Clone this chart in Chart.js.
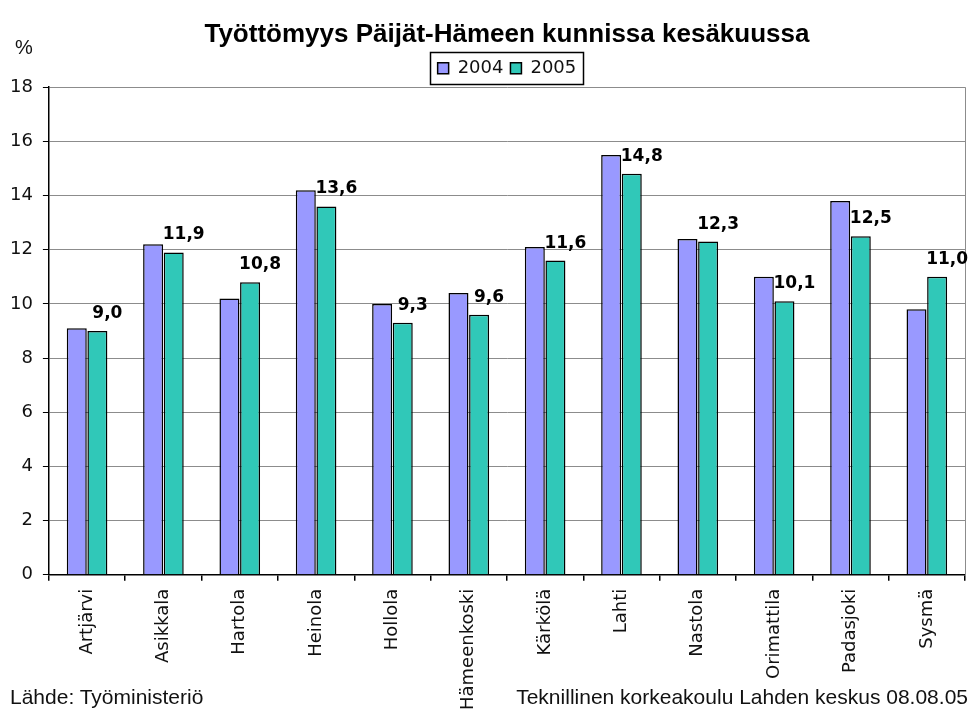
<!DOCTYPE html>
<html>
<head>
<meta charset="utf-8">
<script src="https://cdn.jsdelivr.net/npm/chart.js@4.4.1/dist/chart.umd.min.js"></script>
<style>
  body { margin: 0; background: #fff; }
  #wrap { position: relative; width: 973px; height: 715px; overflow: hidden; }
  .note { position: absolute; font-family: "Liberation Sans", Arial, sans-serif; color: #111; white-space: nowrap; line-height: 21px; }
</style>
</head>
<body>
<div id="wrap">
  <canvas id="chart" width="973" height="715"></canvas>
  <div class="note" style="left:15px; top:37px; font-size:20px;">%</div>
  <div class="note" style="left:10px; top:686px; font-size:21px;">Lähde: Työministeriö</div>
  <div class="note" style="right:5px; top:686px; font-size:21px;">Teknillinen korkeakoulu Lahden keskus 08.08.05</div>
</div>
<script>
  const kunnat = ["Artjärvi", "Asikkala", "Hartola", "Heinola", "Hollola", "Hämeenkoski",
                  "Kärkölä", "Lahti", "Nastola", "Orimattila", "Padasjoki", "Sysmä"];
  const vuosi2004 = [9.1, 12.2, 10.2, 14.2, 10.0, 10.4, 12.1, 15.5, 12.4, 11.0, 13.8, 9.8];
  const vuosi2005 = [9.0, 11.9, 10.8, 13.6, 9.3, 9.6, 11.6, 14.8, 12.3, 10.1, 12.5, 11.0];
  const yMin = 0, yMax = 18, yStep = 2;

  // arvot 2005-pylväiden yläpuolelle, pilkulla
  const arvoLabels = {
    id: "arvoLabels",
    afterDatasetsDraw(chart) {
      const ctx = chart.ctx;
      const meta = chart.getDatasetMeta(1);
      ctx.save();
      ctx.font = "bold 17px 'DejaVu Sans'";
      ctx.fillStyle = "#000";
      ctx.textAlign = "center";
      ctx.textBaseline = "alphabetic";
      meta.data.forEach((bar, i) => {
        const txt = vuosi2005[i].toFixed(1).replace(".", ",");
        ctx.fillText(txt, bar.x + bar.width / 2, bar.y - 13);
      });
      ctx.restore();
    }
  };

  // oikea reuna harmaalla ja selitteen kehys
  const kehykset = {
    id: "kehykset",
    beforeDatasetsDraw(chart) {
      const a = chart.chartArea, ctx = chart.ctx;
      ctx.save();
      ctx.strokeStyle = "#8c8c8c";
      ctx.lineWidth = 1;
      ctx.beginPath();
      ctx.moveTo(a.right + 0.5, a.top);
      ctx.lineTo(a.right + 0.5, a.bottom);
      ctx.stroke();
      ctx.restore();
    },
    afterDraw(chart) {
      const boxes = chart.legend.legendHitBoxes;
      if (!boxes || !boxes.length) return;
      let l = Infinity, r = -Infinity, t = Infinity, b = -Infinity;
      boxes.forEach(h => {
        l = Math.min(l, h.left); r = Math.max(r, h.left + h.width);
        t = Math.min(t, h.top); b = Math.max(b, h.top + h.height);
      });
      const ctx = chart.ctx;
      ctx.save();
      ctx.strokeStyle = "#000";
      ctx.lineWidth = 1.5;
      ctx.strokeRect(Math.round(l - 8) + 0.5, Math.round(t - 7) + 0.5, Math.round(r - l + 14), Math.round(b - t + 14));
      ctx.restore();
    }
  };

  new Chart(document.getElementById("chart"), {
    type: "bar",
    data: {
      labels: kunnat,
      datasets: [
        {
          label: "2004",
          data: vuosi2004,
          backgroundColor: "#9999FF",
          borderColor: "#000",
          borderWidth: 1.5,
          categoryPercentage: 0.54,
          barPercentage: 0.97
        },
        {
          label: "2005",
          data: vuosi2005,
          backgroundColor: "#30C8B8",
          borderColor: "#000",
          borderWidth: 1.5,
          categoryPercentage: 0.54,
          barPercentage: 0.97
        }
      ]
    },
    options: {
      responsive: false,
      animation: false,
      layout: { padding: { top: 19, left: 0, right: 8, bottom: -3 } },
      plugins: {
        title: {
          display: true,
          fullSize: false,
          text: "Työttömyys Päijät-Hämeen kunnissa kesäkuussa",
          color: "#000",
          font: { family: "Liberation Sans", weight: "bold", size: 26 },
          padding: { top: 0, bottom: 2 }
        },
        legend: {
          display: true,
          fullSize: false,
          labels: {
            color: "#111",
            font: { family: "DejaVu Sans", size: 18 },
            boxWidth: 11,
            boxHeight: 11,
            padding: 7
          }
        },
        tooltip: { enabled: false }
      },
      scales: {
        x: {
          grid: { offset: true, drawOnChartArea: false, tickLength: 6, tickColor: "#000", lineWidth: 1.5 },
          border: { color: "#000", width: 1.5 },
          ticks: {
            color: "#111",
            font: { family: "DejaVu Sans", size: 18 },
            maxRotation: 90,
            minRotation: 90,
            padding: 8,
            autoSkip: false
          }
        },
        y: {
          min: yMin,
          max: yMax,
          grid: { color: "#8c8c8c", tickColor: "#000", tickLength: 6, lineWidth: 1 },
          border: { color: "#000", width: 1.5 },
          ticks: {
            stepSize: yStep,
            color: "#111",
            font: { family: "DejaVu Sans", size: 18 },
            padding: 10
          }
        }
      }
    },
    plugins: [arvoLabels, kehykset]
  });
</script>
</body>
</html>
